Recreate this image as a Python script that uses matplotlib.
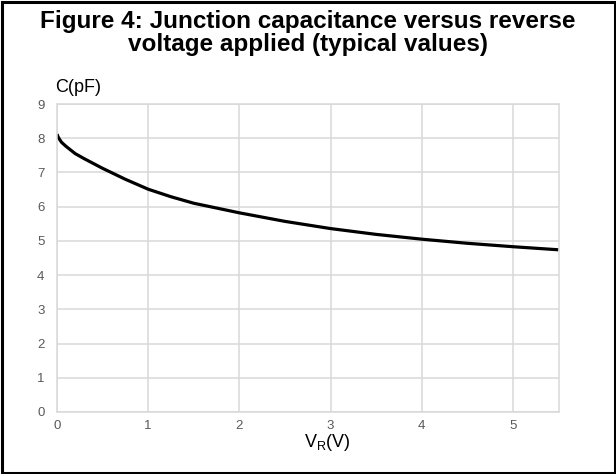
import matplotlib.pyplot as plt
from matplotlib.patches import Rectangle

plt.rcParams['font.family'] = ['Liberation Sans', 'DejaVu Sans']

# reverse voltage (V) and junction capacitance (pF)
v_r = [0.0, 0.01, 0.02, 0.05, 0.1, 0.2, 0.3, 0.5, 0.75, 1.0, 1.25, 1.5,
       2.0, 2.5, 3.0, 3.5, 4.0, 4.5, 5.0, 5.5]
cap = [8.12, 8.05, 8.0, 7.88, 7.76, 7.55, 7.40, 7.12, 6.80, 6.51, 6.29, 6.10,
       5.82, 5.57, 5.36, 5.19, 5.05, 4.93, 4.83, 4.74]

x_ticks = [0, 1, 2, 3, 4, 5]
y_ticks = [0, 1, 2, 3, 4, 5, 6, 7, 8, 9]

W, H = 616, 474
fig = plt.figure(figsize=(W / 100, H / 100), dpi=100)
ax = fig.add_axes([57 / W, 1 - 412 / H, (558.5 - 57) / W, (412 - 104) / H])

ax.plot(v_r, cap, color='black', lw=2.3, solid_capstyle='butt')
ax.set_xlim(0, 5.5)
ax.set_ylim(0, 9)
ax.set_xticks(x_ticks)
ax.set_yticks(y_ticks)
ax.grid(True, color='#d9d9d9', lw=1.1)
ax.set_axisbelow(True)
for s in ax.spines.values():
    s.set_color('#d9d9d9')
    s.set_linewidth(1.1)
ax.tick_params(length=0, labelsize=9.5, labelcolor='#595959')
ax.tick_params(axis='y', pad=9)
ax.tick_params(axis='x', pad=6)

fig.text(308 / W, 1 - 28 / H, 'Figure 4: Junction capacitance versus reverse',
         ha='center', va='baseline', fontsize=17.5, fontweight='bold')
fig.text(308 / W, 1 - 51 / H, 'voltage applied (typical values)',
         ha='center', va='baseline', fontsize=17.5, fontweight='bold')
fig.text(55 / W, 1 - 92 / H, 'C(pF)', ha='left', va='baseline', fontsize=13)
fig.text(327 / W, 1 - 447 / H, r'V$_\mathregular{R}$(V)', ha='center',
         va='baseline', fontsize=13)

fig.patches.append(Rectangle((1.5 / W, 1.5 / H), 1 - 3 / W, 1 - 3 / H,
                             transform=fig.transFigure, fill=False,
                             edgecolor='black', lw=2.2))

fig.savefig('out.png', dpi=100)
